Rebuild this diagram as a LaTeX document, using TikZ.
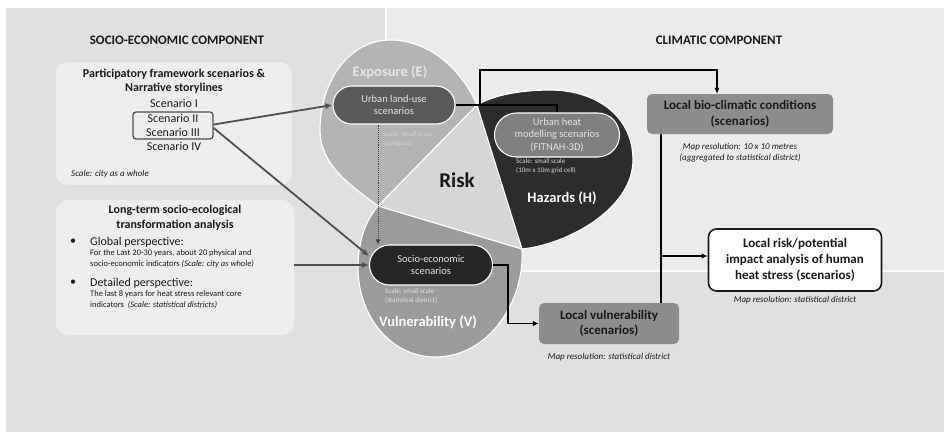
\documentclass[tikz,border=0pt]{standalone}
\usepackage{fontspec}
\setmainfont{Carlito}
\usepackage{tikz}
\usetikzlibrary{arrows.meta,positioning,calc}
\definecolor{PanelGray}{HTML}{E0E0E0}
\definecolor{PaleGray}{HTML}{EBEBEB}
\definecolor{BoxFill}{HTML}{EDEDED}
\definecolor{RiskGray}{HTML}{D6D6D6}
\definecolor{ExpGray}{HTML}{B4B4B4}
\definecolor{HazDark}{HTML}{2C2C2C}
\definecolor{VulGray}{HTML}{9B9B9B}
\definecolor{LandGray}{HTML}{5A5A5A}
\definecolor{SocioDark}{HTML}{262626}
\definecolor{HeatGray}{HTML}{808080}
\definecolor{ResGray}{HTML}{8D8D8D}
\definecolor{ArrowGray}{HTML}{505050}
\definecolor{PillText}{HTML}{E2E2E2}
\definecolor{ScaleText}{HTML}{D4D4D4}
\definecolor{Ink}{HTML}{1A1A1A}
\tikzset{
  panel/.style={fill=BoxFill,rounded corners=12pt},
  pill/.style={draw=white,line width=1.1pt,rounded corners=19pt,align=center,text=PillText,
              font=\fontsize{10.5}{12.6}\selectfont,inner sep=2pt},
  resbox/.style={fill=ResGray,rounded corners=5pt,align=center,text=Ink,
              font=\bfseries\fontsize{13}{15.8}\selectfont},
  flow/.style={-{Latex[length=6pt,width=5.5pt]},line width=1.3pt,draw=black},
  link/.style={line width=1.3pt,draw=black},
  grayflow/.style={-{Latex[length=7pt,width=6pt]},line width=1.8pt,draw=ArrowGray},
  dotflow/.style={-{Latex[length=5pt,width=5pt]},densely dotted,line width=0.9pt,draw=black!75},
  lobe/.style={draw=white,line width=1.2pt},
  lobelabel/.style={font=\bfseries\fontsize{14.5}{17}\selectfont,text=white},
  scalenote/.style={font=\fontsize{7}{9.8}\selectfont,text=ScaleText,align=left,
              anchor=north west,inner sep=0pt},
  mapnote/.style={font=\itshape\fontsize{9}{11}\selectfont,align=center,inner sep=0pt,text=Ink},
  heading/.style={font=\bfseries\fontsize{13}{15}\selectfont,text=Ink},
  bodytext/.style={font=\fontsize{12}{14.5}\selectfont,text=Ink},
  smalltext/.style={font=\fontsize{8.5}{11}\selectfont,text=Ink,align=left,anchor=north west,inner sep=0pt}
}

\begin{document}
\begin{tikzpicture}[x=1pt,y=-1pt]
  \useasboundingbox (0,0) rectangle (944,432);
  % backgrounds
  \fill[white] (0,0) rectangle (944,432);
  \fill[PanelGray] (6,8) rectangle (944,432);
  \fill[white] (385,8) rectangle (944,272);
  \fill[PaleGray] (387,8) rectangle (944,270);

  \node[heading] (soctitle) at (177,40) {SOCIO-ECONOMIC COMPONENT};
  \node[heading] (climtitle) at (719,40) {CLIMATIC COMPONENT};

  % participatory framework
  \node[panel,minimum width=236pt,minimum height=123pt] (partbox) at (174,123.5) {};
  \node[bodytext,font=\bfseries\fontsize{12}{14.5}\selectfont,align=center] (parttitle) at (174,81)
    {Participatory framework scenarios \&\\Narrative storylines};
  \node[bodytext] (scen1) at (174,103) {Scenario I};
  \node[bodytext,draw=ArrowGray,line width=1.3pt,rounded corners=3pt,align=center,
        minimum width=80pt,minimum height=27pt,inner sep=1pt] (scen23) at (173,125.5)
    {Scenario II\\Scenario III};
  \node[bodytext] (scen4) at (174,146) {Scenario IV};
  \node[font=\itshape\fontsize{9}{11}\selectfont,text=Ink,anchor=west,inner sep=0pt] (partscale) at (71,174)
    {Scale: city as a whole};

  % long-term analysis
  \node[panel,minimum width=238pt,minimum height=135pt] (longbox) at (175,267.5) {};
  \node[bodytext,font=\bfseries\fontsize{12}{14.5}\selectfont,align=center] (longtitle) at (175,217.5)
    {Long-term socio-ecological\\transformation analysis};
  \node[bodytext] (bul1) at (73,242) {\textbullet};
  \node[bodytext,anchor=west,inner sep=0pt] (globtxt) at (90,242) {Global perspective:};
  \node[smalltext] (globsub) at (90,249.5)
    {For the Last 20-30 years, about 20 physical and\\socio-economic indicators \textit{(Scale: city as whole)}};
  \node[bodytext] (bul2) at (73,283) {\textbullet};
  \node[bodytext,anchor=west,inner sep=0pt] (dettxt) at (90,283) {Detailed perspective:};
  \node[smalltext] (detsub) at (90,290.5)
    {The last 8 years for heat stress relevant core\\indicators\ \ \textit{(Scale: statistical districts)}};

  % risk lobes
  \coordinate (ev) at (378,206);
  \coordinate (eh) at (477,105);
  \coordinate (hv) at (522,249);
  \fill[RiskGray] (ev) -- (eh) -- (hv) -- cycle;
  \draw[lobe,fill=ExpGray] (eh) .. controls (462,70) and (430,40) .. (390,40)
    .. controls (350,40) and (320,80) .. (320,130)
    .. controls (320,165) and (350,185) .. (ev) -- cycle;
  \draw[lobe,fill=HazDark] (eh) .. controls (490,97) and (515,90) .. (550,90)
    .. controls (595,90) and (633,115) .. (633,160)
    .. controls (633,210) and (565,245) .. (hv) -- cycle;
  \draw[lobe,fill=VulGray] (hv) .. controls (525,300) and (490,357) .. (435,357)
    .. controls (390,357) and (358,315) .. (358,268)
    .. controls (358,240) and (366,220) .. (ev) -- cycle;

  \node[lobelabel,text=white!90!black] (explabel) at (390,72) {Exposure (E)};
  \node[lobelabel] (vullabel) at (428,322) {Vulnerability (V)};
  \node[lobelabel] (hazlabel) at (562,198) {Hazards (H)};
  \node[font=\bfseries\fontsize{21}{24}\selectfont,text=Ink] (risklabel) at (457,180) {Risk};

  \node[pill,fill=LandGray,minimum width=122pt,minimum height=38pt] (landuse) at (394,105)
    {Urban land-use\\scenarios};
  \node[pill,fill=SocioDark,rounded corners=20pt,minimum width=123pt,minimum height=40pt] (socio) at (431,265)
    {Socio-economic\\scenarios};
  \node[pill,fill=HeatGray,rounded corners=22pt,minimum width=125pt,minimum height=44pt] (heat) at (557,135)
    {Urban heat\\modelling scenarios\\(FITNAH-3D)};

  \node[scalenote] (landscale) at (383,131) {Scale: small scale\\(polygous)};
  \node[scalenote,text=white!88!black] (socioscale) at (385,288) {Scale: small scale\\(statistical district)};
  \node[scalenote] (heatscale) at (516,158) {Scale: small scale\\(10m x 10m grid cell)};

  % climatic side
  \node[resbox,minimum width=186pt,minimum height=40pt] (bio) at (740,114)
    {Local bio-climatic conditions\\(scenarios)};
  \node[resbox,minimum width=140pt,minimum height=41pt] (locvul) at (609,323.5)
    {Local vulnerability\\(scenarios)};
  \node[resbox,fill=white,draw=Ink,line width=1.6pt,rounded corners=8pt,
        minimum width=173pt,minimum height=62pt] (impact) at (795,260)
    {Local risk/potential\\impact analysis of human\\heat stress (scenarios)};
  \node[mapnote,below=8.5pt of bio] (bionote)
    {Map resolution: 10 x 10 metres\\(aggregated to statistical district)};
  \node[mapnote,below=9pt of locvul] (locvulnote) {Map resolution: statistical district};
  \node[mapnote,below=4.5pt of impact] (impactnote) {Map resolution: statistical district};

  % connectors
  \draw[grayflow] ([yshift=1pt]scen23.east) -- (landuse.west);
  \draw[grayflow] ([yshift=-2.5pt]scen23.east) -- ([yshift=9pt]socio.west);
  \draw[grayflow] (longbox.east |- socio.west) -- (socio.west);
  \draw[dotflow] (landuse.south -| ev) -- (socio.north -| ev);

  \coordinate (jn) at (480,105);
  \coordinate (jtop) at (480,70);
  \draw[link] (landuse.east) -- (jn);
  \draw[link] (heat.north) |- (jn);
  \draw[flow] (jn) -- (jtop) -| ([xshift=-23pt]bio.north);

  \coordinate (kn) at (661,256);
  \draw[link] (bio.south -| kn) -- (locvul.north -| kn);
  \draw[flow] (kn) -- (kn -| impact.west);
  \draw[flow] (socio.east) -- ++(15,0) |- (locvul.west);
\end{tikzpicture}
\end{document}
